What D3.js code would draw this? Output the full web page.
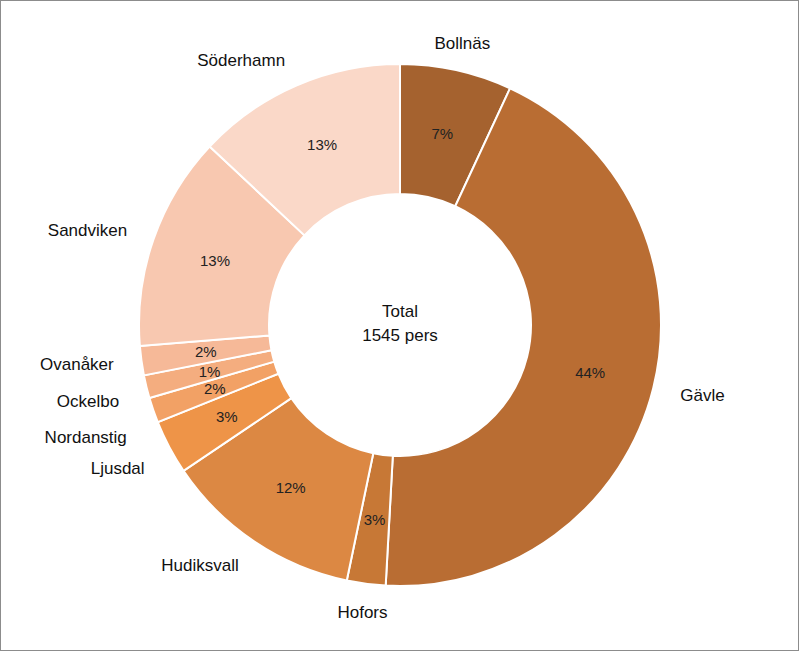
<!DOCTYPE html>
<html><head><meta charset="utf-8">
<script src="https://cdn.jsdelivr.net/npm/d3@7"></script>
<style>body{margin:0;background:#fff}</style>
</head><body>
<svg width="799" height="651"></svg>
<script>
// kommuner medurs från toppen
const kommuner = ["Bollnäs","Gävle","Hofors","Hudiksvall","Ljusdal","Nordanstig","Ockelbo","Ovanåker","Sandviken","Söderhamn"];
const antal = [107,679,37,190,52,24,22,28,205,201];
const procent = ["7%","44%","3%","12%","3%","2%","1%","2%","13%","13%"];
const farger = ["#a5622f","#b96d33","#c77836","#dc8843","#ee9448","#f2a165","#f4ad7f","#f6b998","#f8c8b0","#fad8c8"];
// extra förskjutning av yttre etiketter (px i y)
const nudge = [0,0,0,0,8,18,8,0,0,0];

const svg = d3.select("svg");
const width = +svg.attr("width"), height = +svg.attr("height");
svg.append("rect").attr("x",0.5).attr("y",0.5).attr("width",width-1).attr("height",height-1)
  .attr("fill","#fff").attr("stroke","#8c8c8c");

const cx = 400, cy = 325, rOut = 261, rIn = 131;
const data = kommuner.map((k,i) => ({k, v: antal[i], p: procent[i], c: farger[i], n: nudge[i]}));
const pie = d3.pie().value(d => d.v).sort(null);
const arc = d3.arc().innerRadius(rIn).outerRadius(rOut);
const g = svg.append("g").attr("transform", `translate(${cx},${cy})`);
const arcs = pie(data);

g.selectAll("path").data(arcs).join("path")
  .attr("d", arc).attr("fill", d => d.data.c)
  .attr("stroke","#fff").attr("stroke-width",2);

const font = "'Liberation Sans', Arial, sans-serif";
g.selectAll("text.p").data(arcs).join("text")
  .attr("class","p")
  .attr("transform", d => `translate(${arc.centroid(d)})`)
  .attr("text-anchor","middle").attr("dy","0.35em")
  .attr("font-family",font).attr("font-size",15).attr("fill","#222")
  .text(d => d.data.p);

const labelArc = d3.arc().innerRadius(rOut+28).outerRadius(rOut+28);
g.selectAll("text.l").data(arcs).join("text")
  .attr("class","l")
  .attr("transform", d => {
    const [x,y] = labelArc.centroid(d);
    return `translate(${x},${y + d.data.n})`;
  })
  .attr("text-anchor", d => {
    const a = (d.startAngle + d.endAngle)/2;
    if (a < 0.45 || Math.abs(a-Math.PI) < 0.3) return "middle";
    return a < Math.PI ? "start" : "end";
  })
  .attr("dy","0.35em")
  .attr("font-family",font).attr("font-size",17).attr("fill","#111")
  .text(d => d.data.k);

const mid = svg.append("text").attr("x",cx).attr("y",cy-8).attr("text-anchor","middle")
  .attr("font-family",font).attr("font-size",17).attr("fill","#111");
mid.append("tspan").attr("x",cx).text("Total");
mid.append("tspan").attr("x",cx).attr("dy",24).text("1545 pers");
</script>
</body></html>
